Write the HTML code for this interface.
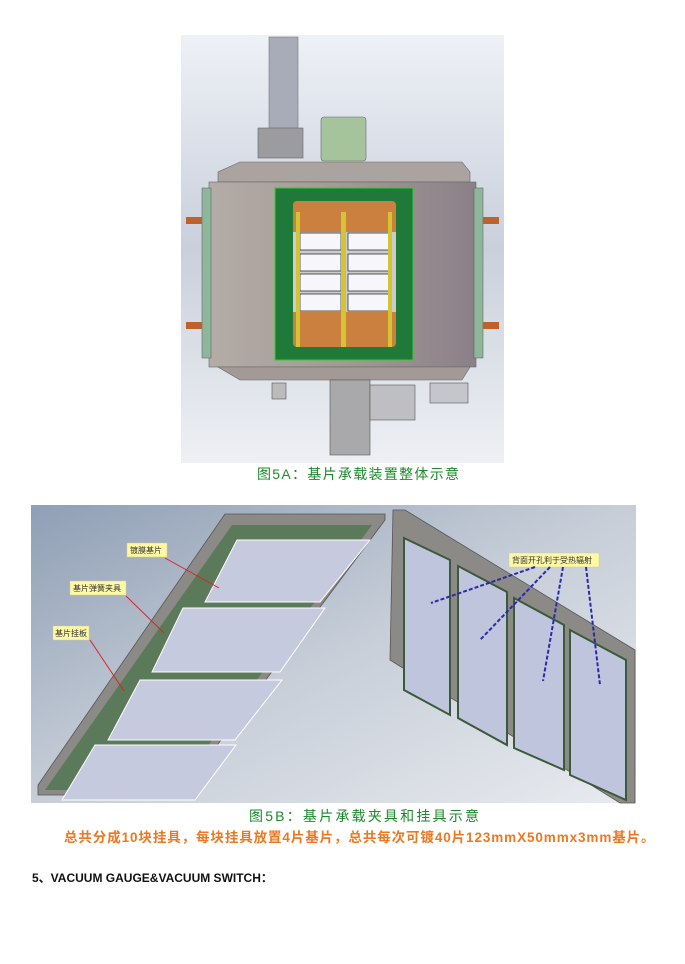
<!DOCTYPE html>
<html><head><meta charset="utf-8"><style>
body{margin:0;background:#fff;width:685px;height:964px;position:relative;overflow:hidden;font-family:"Liberation Sans","Noto Sans CJK SC",sans-serif}
.t{position:absolute;white-space:nowrap}
</style></head><body>
<svg width="685" height="964" style="position:absolute;left:0;top:0">
<defs>
<linearGradient id="bg1" x1="0" y1="0" x2="0" y2="1"><stop offset="0" stop-color="#eef1f6"/><stop offset="0.5" stop-color="#c9d0dc"/><stop offset="1" stop-color="#eef0f4"/></linearGradient>
<linearGradient id="bg2" x1="0" y1="0" x2="1" y2="1"><stop offset="0" stop-color="#8f9fb5"/><stop offset="0.5" stop-color="#c7ced8"/><stop offset="1" stop-color="#e8ebef"/></linearGradient>
<linearGradient id="body" x1="0" y1="0" x2="1" y2="0"><stop offset="0" stop-color="#b4aca6"/><stop offset="0.5" stop-color="#a39a96"/><stop offset="1" stop-color="#8b8088"/></linearGradient>
</defs>
<rect x="181" y="35" width="323" height="428" fill="url(#bg1)"/>
<rect x="269" y="37" width="29" height="100" fill="#a7acb8" stroke="#777" stroke-width="0.6"/>
<rect x="258" y="128" width="45" height="30" fill="#9b9ba0" stroke="#666" stroke-width="0.6"/>
<rect x="321" y="117" width="45" height="44" rx="3" fill="#a5c49c" stroke="#667" stroke-width="0.6"/>
<polygon points="240,162 462,162 470,172 470,182 218,182 218,172" fill="#aba39f" stroke="#666" stroke-width="0.6"/>
<rect x="209" y="182" width="267" height="185" fill="url(#body)" stroke="#666" stroke-width="0.6"/>
<rect x="202" y="188" width="9" height="170" fill="#8fb69a" stroke="#555" stroke-width="0.5"/>
<rect x="474" y="188" width="9" height="170" fill="#8fb69a" stroke="#555" stroke-width="0.5"/>
<rect x="186" y="217" width="16" height="7" fill="#c0602a"/><rect x="483" y="217" width="16" height="7" fill="#c0602a"/>
<rect x="186" y="322" width="16" height="7" fill="#c0602a"/><rect x="483" y="322" width="16" height="7" fill="#c0602a"/>
<polygon points="218,367 470,367 462,380 240,380" fill="#a39a96" stroke="#666" stroke-width="0.6"/>
<rect x="275" y="188" width="138" height="172" fill="#1f7a3a" stroke="#3c3" stroke-width="1"/>
<rect x="293" y="201" width="103" height="146" rx="4" fill="#cc8040"/>
<rect x="293" y="232" width="103" height="80" fill="#ccc"/>
<g fill="#f7f7fb" stroke="#333" stroke-width="0.8">
<rect x="300" y="233" width="41" height="17"/><rect x="348" y="233" width="41" height="17"/>
<rect x="300" y="254" width="41" height="17"/><rect x="348" y="254" width="41" height="17"/>
<rect x="300" y="274" width="41" height="17"/><rect x="348" y="274" width="41" height="17"/>
<rect x="300" y="294" width="41" height="17"/><rect x="348" y="294" width="41" height="17"/>
</g>
<g fill="#d4c432"><rect x="296" y="212" width="4" height="135"/><rect x="341" y="212" width="5" height="135"/><rect x="388" y="212" width="4" height="135"/></g>
<rect x="330" y="380" width="40" height="75" fill="#a9a9ab" stroke="#555" stroke-width="0.6"/>
<rect x="370" y="385" width="45" height="35" fill="#bfbfc3" stroke="#555" stroke-width="0.6"/>
<rect x="430" y="383" width="38" height="20" fill="#c5c5cc" stroke="#555" stroke-width="0.6"/>
<rect x="272" y="383" width="14" height="16" fill="#bbb" stroke="#555" stroke-width="0.6"/>
<rect x="31" y="505" width="605" height="298" fill="url(#bg2)"/>
<polygon points="225,514 385,514 385,520 180,795 38,795 38,785" fill="#8c8a86" stroke="#555" stroke-width="0.8"/>
<polygon points="232,525 372,525 175,790 45,790" fill="#5a7a5a"/>
<g fill="#c5cadf" stroke="#fff" stroke-width="1">
<polygon points="237,540 370,540 320,602 205,602"/>
<polygon points="183,608 325,608 280,672 152,672"/>
<polygon points="140,680 282,680 235,740 108,740"/>
<polygon points="95,745 236,745 195,800 62,800"/>
</g>
<polygon points="393,510 405,510 635,650 635,803 620,803 390,660" fill="#8c8a86" stroke="#555" stroke-width="0.8"/>
<g fill="#bfc5dc" stroke="#3a5a3a" stroke-width="2">
<polygon points="404,538 450,560 450,715 404,690"/>
<polygon points="458,566 507,592 507,745 458,718"/>
<polygon points="514,598 564,625 564,770 514,748"/>
<polygon points="570,630 626,660 626,800 570,775"/>
</g>
<g fill="#fff9a6" stroke="#cc9" stroke-width="0.5"><rect x="127" y="543" width="40" height="14"/><rect x="70" y="581" width="56" height="14"/><rect x="53" y="626" width="36" height="14"/><rect x="509" y="553" width="90" height="14"/></g>
<g font-size="8" fill="#333" font-family="Noto Sans CJK SC,sans-serif"><text x="130" y="553">镀膜基片</text><text x="73" y="591">基片弹簧夹具</text><text x="55" y="636">基片挂板</text><text x="512" y="563">背面开孔利于受热辐射</text></g>
<g stroke="#d22" stroke-width="1"><line x1="165" y1="558" x2="219" y2="588"/><line x1="126" y1="596" x2="164" y2="633"/><line x1="90" y1="640" x2="124" y2="691"/></g>
<g stroke="#2a2aaa" stroke-width="2" stroke-dasharray="4,2" fill="none"><line x1="535" y1="567" x2="431" y2="603"/><line x1="550" y1="567" x2="480" y2="640"/><line x1="563" y1="567" x2="543" y2="681"/><line x1="586" y1="567" x2="600" y2="685"/></g>
</svg>
<div class="t" style="left:257px;top:464px;font-size:14px;letter-spacing:1.3px;color:#1a8a2a">图5A：基片承载装置整体示意</div>
<div class="t" style="left:249px;top:806px;font-size:14px;letter-spacing:2.2px;color:#1a8a2a">图5B：基片承载夹具和挂具示意</div>
<div class="t" style="left:64px;top:826px;font-size:13.5px;font-weight:bold;color:#ee7722;letter-spacing:0.9px">总共分成10块挂具，每块挂具放置4片基片，总共每次可镀40片123mmX50mmx3mm基片。</div>
<div class="t" style="left:32px;top:869px;font-size:12px;font-weight:bold;color:#111">5、VACUUM GAUGE&amp;VACUUM SWITCH：</div>
</body></html>
